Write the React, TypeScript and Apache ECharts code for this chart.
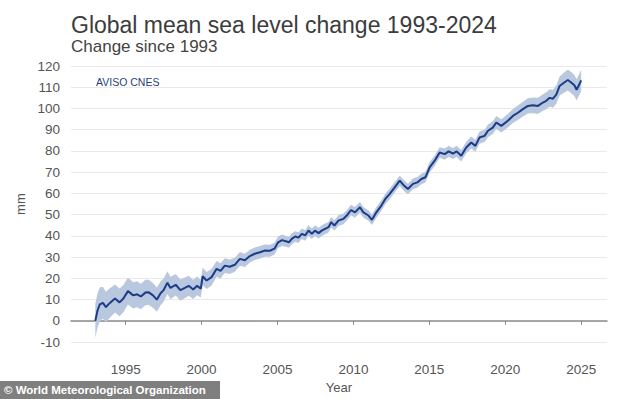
import React, { useEffect, useRef } from "react";
import * as echarts from "echarts";

const titleText = "Global mean sea level change 1993-2024";
const subtitleText = "Change since 1993";
const sourceText = "AVISO CNES";
const creditText = "© World Meteorological Organization";
const xAxisName = "Year";
const yAxisName = "mm";

const xTickYears = [1995, 2000, 2005, 2010, 2015, 2020, 2025];

const years = [
  1993.0, 1993.15, 1993.3, 1993.5, 1993.7, 1993.9, 1994.05, 1994.3, 1994.6, 1994.85,
  1995.15, 1995.5, 1995.75, 1996.0, 1996.3, 1996.5, 1996.8, 1997.05, 1997.3, 1997.5,
  1997.75, 1997.95, 1998.3, 1998.6, 1998.9, 1999.15, 1999.45, 1999.7, 1999.95, 2000.07,
  2000.33, 2000.66, 2000.99, 2001.25, 2001.53, 2001.85, 2002.19, 2002.52, 2002.85, 2003.18,
  2003.5, 2003.85, 2004.15, 2004.5, 2004.8, 2005.04, 2005.3, 2005.55, 2005.75, 2005.94,
  2006.16, 2006.38, 2006.6, 2006.82, 2007.04, 2007.26, 2007.47, 2007.7, 2007.91, 2008.13,
  2008.36, 2008.53, 2008.75, 2009.01, 2009.34, 2009.56, 2009.84, 2010.1, 2010.43, 2010.66,
  2010.99, 2011.22, 2011.51, 2011.84, 2012.1, 2012.39, 2012.72, 2013.05, 2013.33, 2013.59,
  2013.92, 2014.21, 2014.47, 2014.74, 2015.02, 2015.35, 2015.68, 2016.01, 2016.27, 2016.55,
  2016.8, 2017.1, 2017.43, 2017.76, 2018.03, 2018.3, 2018.64, 2018.86, 2019.18, 2019.41,
  2019.74, 2020.17, 2020.5, 2020.83, 2021.16, 2021.49, 2021.82, 2022.15, 2022.48, 2022.7,
  2022.92, 2023.14, 2023.36, 2023.58, 2023.84, 2024.12, 2024.34, 2024.55, 2024.7, 2024.88,
  2025.0,
];

const gmsl = [
  0, 5, 7.8, 8.5, 6.5, 8, 9, 10.5, 8.7, 10.5,
  14, 12, 12.5, 11.5, 13.3, 13.5, 12, 10, 13, 14.5,
  18, 15.5, 17, 14.5, 15.5, 16.5, 14.8, 16.5, 15.2, 21,
  19, 20.6, 24.5, 23.5, 26, 25.5, 26.4, 29.2, 28.5, 30.5,
  31.6, 32.3, 33.1, 33, 34, 37, 38, 37.5, 37, 38.6,
  39.7, 39.2, 41, 40.2, 42.5, 41, 42.5, 41.3, 42.5, 43.3,
  44.1, 46.4, 44.9, 47.2, 48, 49.6, 52.2, 51.1, 53.5, 51.1,
  49.6, 47.6, 51.1, 54.3, 57.4, 59.8, 62.9, 66, 63.7, 62.1,
  64.5, 65.2, 66.8, 67.6, 72.3, 75.4, 79.3, 78.5, 79.8, 78.8,
  79.8, 77.7, 81.6, 84, 82.4, 86.3, 87.1, 89.5, 91, 93.4,
  91.8, 94.2, 96.5, 98, 99.7, 101.2, 101.5, 101.2, 102.8, 103.6,
  105, 104.6, 106.5, 110.6, 112, 113.4, 112.2, 110.9, 108.8, 111.4,
  113.2,
];

// half-width (mm) of the shaded uncertainty band at each point above
const uncertainty = [
  8, 8, 8, 7.5, 7.2, 7, 6.8, 6.6, 6.5, 6.4,
  6.3, 6.2, 6.1, 6, 6, 5.9, 5.8, 5.7, 5.6, 5.5,
  5.4, 5.3, 5.1, 5, 4.9, 4.7, 4.5, 4.4, 4.2, 4.1,
  4, 3.9, 3.7, 3.6, 3.5, 3.4, 3.3, 3.2, 3.1, 3,
  3, 2.9, 2.9, 2.8, 2.8, 2.7, 2.7, 2.6, 2.6, 2.6,
  2.5, 2.5, 2.5, 2.5, 2.5, 2.5, 2.5, 2.5, 2.5, 2.5,
  2.5, 2.5, 2.5, 2.5, 2.5, 2.5, 2.5, 2.5, 2.5, 2.5,
  2.5, 2.5, 2.5, 2.5, 2.5, 2.5, 2.5, 2.5, 2.5, 2.5,
  2.5, 2.5, 2.5, 2.5, 2.5, 2.5, 2.5, 2.6, 2.6, 2.6,
  2.6, 2.7, 2.7, 2.8, 2.8, 2.9, 2.9, 3, 3, 3.1,
  3.1, 3.2, 3.3, 3.4, 3.5, 3.6, 3.7, 3.8, 3.9, 4,
  4.1, 4.2, 4.3, 4.5, 4.7, 4.9, 5, 5, 5, 5,
  5.2,
];

const FONT = "'Liberation Sans', Arial, sans-serif";

export default function App() {
  const ref = useRef<HTMLDivElement>(null);

  useEffect(() => {
    if (!ref.current) return;
    const chart = echarts.init(ref.current, null, { renderer: "svg" });

    const lineData = years.map((y, i) => [y, gmsl[i]]);
    const upper = years.map((y, i) => [y, gmsl[i] + uncertainty[i]]);
    const lower = years.map((y, i) => [y, gmsl[i] - uncertainty[i]]);

    chart.setOption({
      animation: false,
      backgroundColor: "#ffffff",
      textStyle: { fontFamily: FONT },
      grid: { left: 71, right: 27, top: 66, bottom: 56, containLabel: false },
      xAxis: {
        type: "value",
        min: 1991.4,
        max: 2026.7,
        offset: 10,
        name: xAxisName,
        nameLocation: "middle",
        nameGap: 24,
        nameTextStyle: { color: "#555", fontSize: 13, fontFamily: FONT },
        axisLine: { show: true, lineStyle: { color: "#8c8c8c", width: 1.5 } },
        axisTick: {
          show: true,
          length: 4,
          customValues: xTickYears,
          lineStyle: { color: "#8c8c8c" },
        },
        axisLabel: {
          customValues: xTickYears,
          margin: 10,
          color: "#555",
          fontSize: 13.5,
          fontFamily: FONT,
          formatter: (v: number) => String(v),
        },
        splitLine: { show: false },
      },
      yAxis: {
        type: "value",
        min: -10,
        max: 120,
        interval: 10,
        name: yAxisName,
        nameLocation: "middle",
        nameGap: 37,
        nameTextStyle: { color: "#555", fontSize: 13, fontFamily: FONT },
        axisLine: { show: false },
        axisTick: { show: false },
        axisLabel: { margin: 11, color: "#555", fontSize: 13.5, fontFamily: FONT },
        splitLine: { show: true, lineStyle: { color: "#e9e9e9", width: 1 } },
      },
      graphic: [
        {
          type: "text",
          x: 0,
          y: 0,
          style: {
            text: titleText,
            x: 71,
            y: 25,
            fill: "#3c3c3c",
            fontSize: 23,
            fontFamily: FONT,
            verticalAlign: "middle",
          },
        },
        {
          type: "text",
          x: 0,
          y: 0,
          style: {
            text: subtitleText,
            x: 71,
            y: 46.5,
            fill: "#444",
            fontSize: 17,
            fontFamily: FONT,
            verticalAlign: "middle",
          },
        },
        {
          type: "text",
          x: 0,
          y: 0,
          style: {
            text: sourceText,
            x: 96,
            y: 81.5,
            fill: "#1f3f80",
            fontSize: 10.5,
            fontFamily: FONT,
            verticalAlign: "middle",
          },
        },
        {
          type: "rect",
          x: 0,
          y: 0,
          shape: { x: 0, y: 381, width: 220, height: 18 },
          style: { fill: "rgba(105,105,105,0.85)" },
        },
        {
          type: "text",
          x: 0,
          y: 0,
          style: {
            text: creditText,
            x: 4,
            y: 390,
            fill: "#ffffff",
            fontSize: 11.5,
            fontWeight: "bold",
            fontFamily: FONT,
            verticalAlign: "middle",
          },
        },
      ],
      series: [
        {
          type: "custom",
          name: "band",
          silent: true,
          z: 1,
          data: [[years[0], gmsl[0]]],
          renderItem: (_params: any, api: any) => {
            const top = upper.map((p) => api.coord(p));
            const bottom = lower.map((p) => api.coord(p)).reverse();
            return {
              type: "polygon",
              shape: { points: top.concat(bottom) },
              style: { fill: "#b9c8df", stroke: "none" },
            };
          },
        },
        {
          type: "line",
          name: "GMSL",
          z: 3,
          data: lineData,
          showSymbol: false,
          symbol: "none",
          lineStyle: { color: "#1b3c87", width: 2 },
        },
      ],
    });

    return () => chart.dispose();
  }, []);

  return (
    <div
      ref={ref}
      style={{ position: "absolute", left: 0, top: 0, width: 634, height: 399 }}
    />
  );
}
